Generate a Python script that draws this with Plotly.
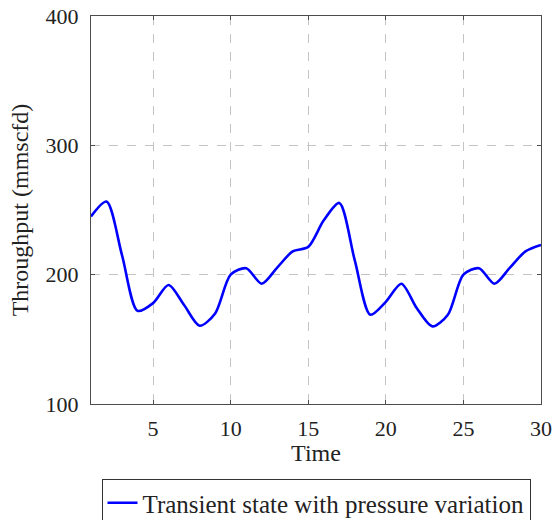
import plotly.graph_objects as go

# Throughput over time (mmscfd)
time = list(range(1, 31))
throughput = [245, 256.5, 215, 172, 178, 192, 176.5, 160.5, 170, 200,
              205, 193, 205.5, 218, 221.5, 242, 255.5, 211, 169, 179,
              193, 174, 160, 169, 200, 205, 193, 205.5, 218, 223]
series_name = "Transient state with pressure variation"
x_ticks = [5, 10, 15, 20, 25, 30]
y_ticks = [100, 200, 300, 400]

font_family = "Liberation Serif"
text_color = "#222222"
axis_color = "#4d4d4d"
grid_color = "#c4c4c4"
tick_fs = 22
label_fs = 24
legend_fs = 25

fig = go.Figure()
fig.add_trace(go.Scatter(
    x=time, y=throughput, mode="lines", name=series_name,
    line=dict(color="#0000ff", width=2.6, shape="spline", smoothing=0.8),
))

axis_common = dict(
    showline=True, linecolor=axis_color, linewidth=1.2, mirror="ticks",
    ticks="inside", ticklen=4, tickcolor=axis_color, tickwidth=1,
    showgrid=True, gridcolor=grid_color, griddash="dash", gridwidth=1,
    zeroline=False, automargin=False,
    tickfont=dict(family=font_family, size=tick_fs, color=text_color),
)

fig.update_layout(
    width=553, height=520,
    margin=dict(l=91, r=12, t=16, b=116),
    paper_bgcolor="white", plot_bgcolor="white",
    font=dict(family=font_family, size=label_fs, color=text_color),
    xaxis=dict(range=[1, 30], tickvals=x_ticks, ticklabelstandoff=4,
               title=dict(text="Time", standoff=4,
                          font=dict(family=font_family, size=label_fs)),
               **axis_common),
    yaxis=dict(range=[100, 400], tickvals=y_ticks, ticklabelstandoff=7,
               title=dict(text="Throughput (mmscfd)", standoff=10,
                          font=dict(family=font_family, size=label_fs)),
               **axis_common),
    showlegend=True,
    legend=dict(orientation="h", x=0.5, xanchor="center",
                yref="container", y=1 - 479 / 520, yanchor="top",
                bordercolor="#333333", borderwidth=1,
                font=dict(family=font_family, size=legend_fs)),
)

fig.write_html("out.html")
